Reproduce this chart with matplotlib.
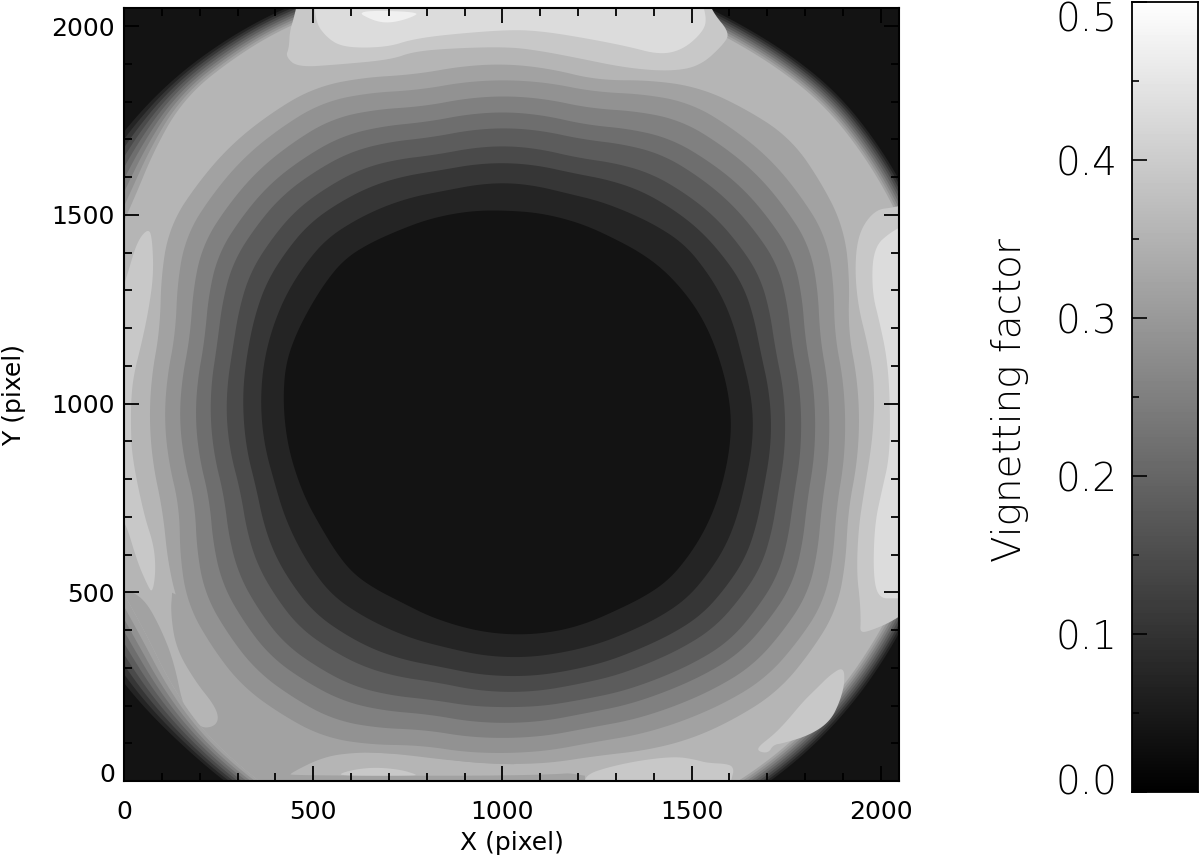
import numpy as np
import matplotlib
matplotlib.use('Agg')
import matplotlib.pyplot as plt
from matplotlib.ticker import MultipleLocator
from matplotlib.transforms import ScaledTranslation

plt.rcParams['font.family'] = ['DejaVu Sans']

# contour outlines: radius read along rays every 15 deg from the centre of the
# dark core, in picture pixels (radius_scale turns them into detector pixels)
centre_x = 1012
centre_y = 955
radius_scale = 2048 / 775
ray_angles = np.arange(0, 360, 15)

edge_radius = [450, 455, 460, 465, 460, 460, 460, 460, 470, 478, 482, 480,
               475, 470, 467, 459, 458, 455, 450, 447, 447, 447, 446, 448]
edge_width = [18, 18, 18, 18, 18, 18, 18, 18, 18, 22, 50, 50,
              50, 45, 49, 25, 18, 18, 18, 18, 18, 18, 18, 18]

level_radii = [
    # a2/b5 boundary
    [352, 352, 388, 400, 385, 352, 357, 358, 385, 390, 389, 358,
     357, 355, 378, 385, 375, 345, 344, 347, 368, 383, 380, 352],
    [338, 338, 368, 371, 367, 340, 341, 342, 368, 372, 370, 342,
     342, 338, 368, 375, 366, 336, 333, 333, 348, 365, 365, 340],
    [322, 323, 349, 351, 347, 323, 325, 325, 349, 353, 351, 327,
     327, 322, 348, 354, 346, 320, 318, 318, 331, 347, 347, 325],
    [308, 308, 330, 331, 326, 306, 309, 309, 329, 335, 333, 312,
     311, 307, 328, 334, 325, 304, 303, 303, 314, 329, 329, 310],
    [294, 294, 312, 312, 308, 291, 293, 293, 311, 318, 316, 299,
     296, 292, 309, 315, 307, 289, 287, 289, 299, 313, 312, 296],
    [278, 277, 291, 291, 286, 272, 275, 275, 291, 298, 296, 283,
     280, 275, 288, 293, 285, 271, 272, 273, 281, 293, 293, 280],
    [264, 262, 272, 271, 266, 256, 258, 259, 271, 279, 277, 268,
     263, 259, 268, 272, 265, 255, 256, 258, 264, 275, 275, 265],
    [246, 243, 248, 250, 241, 235, 238, 238, 247, 256, 254, 250,
     245, 240, 243, 247, 240, 235, 237, 239, 244, 253, 252, 246],
    # edge of the dark core
    [224, 221, 220, 217, 211, 210, 210, 214, 219, 229, 227, 228,
     222, 217, 214, 217, 210, 211, 214, 217, 219, 227, 226, 224],
]
level_grays = ['#a2a2a2', '#929292', '#808080', '#6e6e6e', '#5c5c5c',
               '#4a4a4a', '#363636', '#242424', '#131313']
fringe_grays = ['#242424', '#363636', '#4a4a4a', '#5c5c5c',
                '#6e6e6e', '#808080', '#929292', '#a2a2a2']

# patches of the light bands, in detector pixels
lower_left_x = [0, 120, 300, 800, 1031, 1218, 1218, 0]
lower_left_y = [502, 502, 420, 400, 43, 14, 0, 0]
lobe_x = [0, 53, 97, 132, 159, 203, 238, 251, 238, 189, 137, 123, 128, 128, 0]
lobe_y = [510, 484, 405, 316, 184, 140, 144, 166, 202, 263, 352, 449, 502, 620, 620]
strip_x = [440, 529, 617, 705, 881, 1031, 1218, 1218, 440]
strip_y = [21, 65, 76, 74, 52, 43, 43, 14, 14]

top_c8_x = [462, 449, 438, 436, 427, 458, 564, 705, 766, 881, 1020, 1108, 1196,
            1328, 1443, 1522, 1584, 1601, 1557, 1540]
top_c8_y = [2080, 2022, 1986, 1942, 1920, 1891, 1898, 1911, 1933, 1942, 1945, 1933, 1916,
            1889, 1880, 1894, 1951, 1982, 2035, 2080]
top_dc_x = [502, 507, 537, 573, 634, 705, 758, 846, 1020, 1108, 1214, 1328, 1416,
            1478, 1531, 1540, 1522]
top_dc_y = [2080, 2008, 1969, 1947, 1942, 1947, 1964, 1977, 1991, 1986, 1969, 1947, 1924,
            1938, 1986, 2022, 2080]
top_f0_x = [608, 661, 705, 758, 784]
top_f0_y = [2042, 2013, 2008, 2022, 2038]

left_c8_x = [66, 75, 78, 66, 48, 26, 19, 18, 22, 53, 79, 84, 75, 62, 35, 4, -20, -20, 9, 35]
left_c8_y = [1466, 1431, 1342, 1254, 1166, 1078, 1016, 934, 854, 704, 625, 555, 497, 519,
             581, 687, 700, 1254, 1342, 1431]
right_c8_x = [2029, 1989, 1954, 1936, 1932, 1941, 1963, 1980, 1982, 1982, 1976, 1954, 1941,
              1936, 1945, 1947, 1945, 1967, 2029, 2080, 2080]
right_c8_y = [1519, 1514, 1475, 1422, 1342, 1254, 1166, 1078, 1016, 978, 890, 757, 669,
              555, 475, 422, 394, 396, 422, 458, 1530]
right_dc_x = [2029, 1980, 1976, 1998, 2016, 2024, 2024, 2002, 1985, 1980, 1985, 2002, 2029,
              2080, 2080]
right_dc_y = [1457, 1413, 1298, 1210, 1122, 1016, 863, 766, 687, 581, 510, 484, 484, 484, 1480]
bottom_c8_x = [1218, 1284, 1372, 1460, 1513, 1540, 1601, 1612, 1606, 1600, 1218]
bottom_c8_y = [16, 38, 56, 65, 56, 48, 45, 30, 8, -20, -20]
bottom_small_x = [573, 617, 670, 731, 771, 771, 573]
bottom_small_y = [21, 32, 36, 30, 18, 14, 14]
corner_c8_x = [1901, 1905, 1892, 1866, 1813, 1742, 1716, 1703, 1676, 1676, 1716, 1751, 1795,
               1831, 1866]
corner_c8_y = [303, 263, 211, 158, 122, 100, 96, 74, 78, 91, 122, 158, 211, 246, 281]

x_ticks = [0, 500, 1000, 1500, 2000]
bar_ticks = [0.0, 0.1, 0.2, 0.3, 0.4, 0.5]


def outline(radii):
    # straight between rays, then a short running mean to round the corners
    fine_deg = np.arange(720) / 2
    fine = np.interp(fine_deg, ray_angles, radii, period=360)
    window = np.ones(17) / 17
    fine = np.convolve(np.r_[fine[-8:], fine, fine[:8]], window, mode='valid')
    return fine * radius_scale, np.deg2rad(fine_deg)


def to_xy(r, theta):
    return centre_x + r * np.cos(theta), centre_y + r * np.sin(theta)


def rounded(xs, ys):
    # corner cutting, the patches are read with only a few vertices
    pts = np.column_stack([xs, ys]).astype(float)
    for _ in range(3):
        nxt = np.roll(pts, -1, axis=0)
        cut = np.empty((2 * len(pts), 2))
        cut[0::2] = 0.75 * pts + 0.25 * nxt
        cut[1::2] = 0.25 * pts + 0.75 * nxt
        pts = cut
    return pts[:, 0], pts[:, 1]


def shift_label(label, pixels):
    label.set_transform(label.get_transform() + ScaledTranslation(0, pixels / 100, fig.dpi_scale_trans))


fig = plt.figure(figsize=(12, 8.63), dpi=100)
ax = fig.add_axes([124 / 1200, (863 - 781) / 863, 775 / 1200, 773 / 863])
ax.set_facecolor('#131313')

edge_r, theta = outline(edge_radius)
width_r, _ = outline(edge_width)
for k, gray in enumerate(fringe_grays):
    ax.fill(*to_xy(edge_r - width_r * k / 8, theta), color=gray, lw=0)
inner_r = edge_r - width_r
disc = ax.fill(*to_xy(inner_r, theta), color='#b5b5b5', lw=0)[0]

ax.fill(lower_left_x, lower_left_y, color='#a2a2a2', lw=0, clip_path=disc)
ax.fill(*rounded(lobe_x, lobe_y), color='#b5b5b5', lw=0, clip_path=disc)
ax.fill(*rounded(strip_x, strip_y), color='#b5b5b5', lw=0, clip_path=disc)

for xs, ys, gray in [(top_c8_x, top_c8_y, '#c8c8c8'), (top_dc_x, top_dc_y, '#dcdcdc'),
                     (top_f0_x, top_f0_y, '#f0f0f0'), (left_c8_x, left_c8_y, '#c8c8c8'),
                     (right_c8_x, right_c8_y, '#c8c8c8'), (right_dc_x, right_dc_y, '#dcdcdc'),
                     (bottom_c8_x, bottom_c8_y, '#c8c8c8'), (bottom_small_x, bottom_small_y, '#c8c8c8'),
                     (corner_c8_x, corner_c8_y, '#c8c8c8')]:
    ax.fill(*rounded(xs, ys), color=gray, lw=0)

for radii, gray in zip(level_radii, level_grays):
    r, theta = outline(radii)
    ax.fill(*to_xy(np.minimum(r, inner_r), theta), color=gray, lw=0)

ax.set_xlim(0, 2048)
ax.set_ylim(0, 2048)
ax.set_xticks(x_ticks)
ax.set_yticks(x_ticks)
ax.xaxis.set_minor_locator(MultipleLocator(100))
ax.yaxis.set_minor_locator(MultipleLocator(100))
ax.tick_params(which='major', direction='in', length=11, width=1.3, top=True, right=True,
               labelsize=18)
ax.tick_params(which='minor', direction='in', length=5.5, width=1.3, top=True, right=True)
ax.tick_params(axis='x', which='major', pad=14)
ax.tick_params(axis='y', which='major', pad=6.5)
shift_label(ax.get_yticklabels()[0], 9)
for spine in ax.spines.values():
    spine.set_linewidth(1.5)
fig.text(512 / 1200, 1 - 843 / 863, 'X (pixel)', fontsize=18, ha='center', va='center')
fig.text(14 / 1200, 1 - 395 / 863, 'Y (pixel)', fontsize=18, rotation=90, ha='center', va='center')

cax = fig.add_axes([1132 / 1200, (863 - 792) / 863, 66 / 1200, 790 / 863])
gradient = np.linspace(0, 0.5, 256).reshape(-1, 1)
cax.imshow(gradient, cmap='gray', vmin=0, vmax=0.5, origin='lower', aspect='auto',
           extent=[0, 1, 0, 0.5])
cax.set_xticks([])
cax.set_yticks(bar_ticks)
cax.set_yticklabels(['%.1f' % t for t in bar_ticks], fontweight=200)
cax.yaxis.set_minor_locator(MultipleLocator(0.05))
cax.tick_params(which='major', direction='in', length=11, width=1.2, labelsize=28, pad=10.5)
cax.tick_params(which='minor', direction='in', length=5, width=1.2)
shift_label(cax.get_yticklabels()[0], 13)
shift_label(cax.get_yticklabels()[-1], -14)
for spine in cax.spines.values():
    spine.set_linewidth(1.3)
fig.text(1010 / 1200, 1 - 400 / 863, 'Vignetting factor', fontsize=28, fontweight=200, rotation=90,
         ha='center', va='center')

fig.savefig('out.png', dpi=100)
